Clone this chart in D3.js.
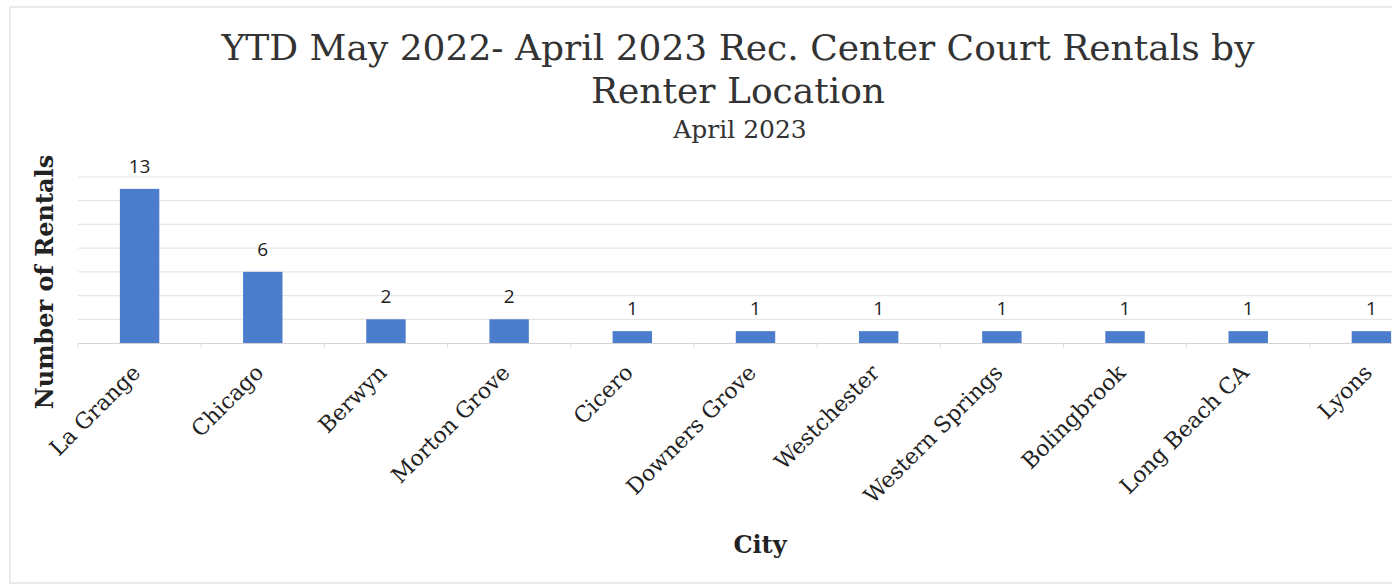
<!DOCTYPE html>
<html>
<head>
<meta charset="utf-8">
<script src="https://cdn.jsdelivr.net/npm/d3@7"></script>
<style>
  body { margin: 0; background: #fff; }
  svg { display: block; }
</style>
</head>
<body>
<svg id="chart" width="1392" height="586"></svg>
<script>
// data
const cities = ["La Grange", "Chicago", "Berwyn", "Morton Grove", "Cicero", "Downers Grove",
  "Westchester", "Western Springs", "Bolingbrook", "Long Beach CA", "Lyons"];
const rentals = [13, 6, 2, 2, 1, 1, 1, 1, 1, 1, 1];
const yTicks = [0, 2, 4, 6, 8, 10, 12, 14];

const titleLines = ["YTD May 2022- April 2023 Rec. Center Court Rentals by", "Renter Location"];
const subtitle = "April 2023";

(function () {
  const svg = d3.select("#chart");
  const serif = "'DejaVu Serif', serif";

  // plot box (runs past the right edge, like the cropped original)
  const M = { top: 177, left: 78, right: 1433, bottom: 343 };

  const x = d3.scaleBand().domain(cities).range([M.left, M.right]).paddingInner(0.68).paddingOuter(0.34);
  const y = d3.scaleLinear().domain([0, 14]).range([M.bottom, M.top]);

  // faint frame from the scanned page
  svg.append("rect")
    .attr("x", 10).attr("y", 7).attr("width", 1400).attr("height", 576)
    .attr("fill", "none").attr("stroke", "#e4e4e4").attr("stroke-width", 1.5);

  // gridlines
  svg.append("g").selectAll("line")
    .data(yTicks.slice(1))
    .join("line")
    .attr("x1", M.left).attr("x2", M.right)
    .attr("y1", d => y(d)).attr("y2", d => y(d))
    .attr("stroke", "#e6e6e6").attr("stroke-width", 1.2);

  // x axis
  const xAxis = svg.append("g")
    .attr("transform", `translate(0,${M.bottom})`)
    .call(d3.axisBottom(x).tickSize(0).tickFormat(""));
  xAxis.select(".domain").attr("stroke", "#d4d4d4").attr("stroke-width", 1.2);

  // category separators under the axis
  const step = x.step();
  svg.append("g").selectAll("line")
    .data(d3.range(cities.length + 1))
    .join("line")
    .attr("x1", i => M.left + i * step).attr("x2", i => M.left + i * step)
    .attr("y1", M.bottom).attr("y2", M.bottom + 5)
    .attr("stroke", "#dcdcdc");

  // bars
  svg.append("g").selectAll("rect")
    .data(rentals)
    .join("rect")
    .attr("x", (d, i) => x(cities[i]))
    .attr("y", d => y(d))
    .attr("width", x.bandwidth())
    .attr("height", d => y(0) - y(d))
    .attr("fill", "#4c7ccc");

  // value labels
  svg.append("g").selectAll("text")
    .data(rentals)
    .join("text")
    .attr("x", (d, i) => x(cities[i]) + x.bandwidth() / 2)
    .attr("y", d => y(d) - 16)
    .attr("text-anchor", "middle")
    .attr("font-family", "'Open Sans', sans-serif")
    .attr("font-size", 19)
    .attr("fill", "#222")
    .text(d => d);

  // rotated city labels
  svg.append("g").selectAll("text")
    .data(cities)
    .join("text")
    .attr("transform", d => `translate(${x(d) + x.bandwidth() / 2 + 2},${M.bottom + 31}) rotate(-45)`)
    .attr("text-anchor", "end")
    .attr("font-family", serif)
    .attr("font-size", 22)
    .attr("fill", "#222")
    .text(d => d);

  // titles
  svg.append("g").selectAll("text")
    .data(titleLines)
    .join("text")
    .attr("x", 738)
    .attr("y", (d, i) => 60 + i * 43)
    .attr("text-anchor", "middle")
    .attr("font-family", serif)
    .attr("font-size", 36)
    .attr("fill", "#333")
    .text(d => d);

  svg.append("text")
    .attr("x", 740).attr("y", 138)
    .attr("text-anchor", "middle")
    .attr("font-family", serif)
    .attr("font-size", 25)
    .attr("fill", "#333")
    .text(subtitle);

  // axis titles
  svg.append("text")
    .attr("transform", `translate(53,282) rotate(-90)`)
    .attr("text-anchor", "middle")
    .attr("font-family", serif)
    .attr("font-weight", "bold")
    .attr("font-size", 24)
    .attr("fill", "#222")
    .text("Number of Rentals");

  svg.append("text")
    .attr("x", 760).attr("y", 553)
    .attr("text-anchor", "middle")
    .attr("font-family", serif)
    .attr("font-weight", "bold")
    .attr("font-size", 24)
    .attr("fill", "#222")
    .text("City");
})();
</script>
</body>
</html>
